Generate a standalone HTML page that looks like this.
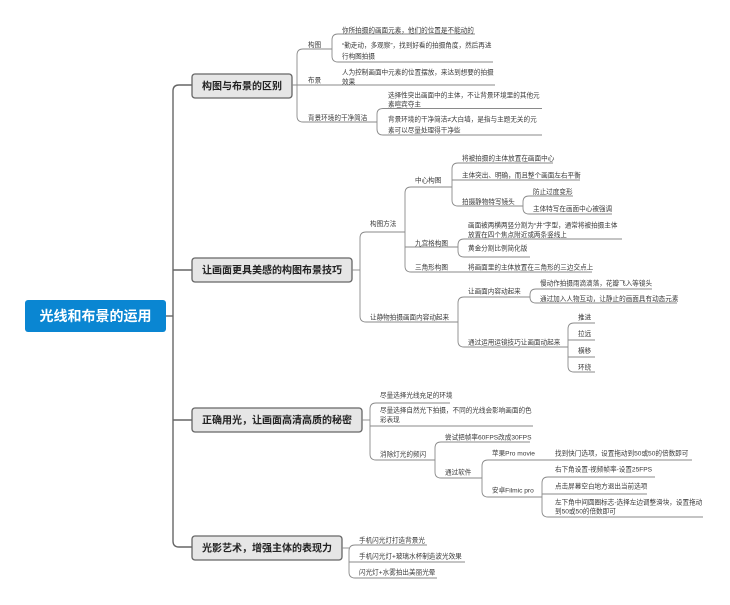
<!DOCTYPE html>
<html><head><meta charset="utf-8"><style>
html,body{margin:0;padding:0;background:#fff;width:730px;height:605px;overflow:hidden}
svg{display:block}
.t{font-family:"Liberation Sans","Noto Sans CJK SC",sans-serif;font-size:6.6px;fill:#3a3a3a}
.n{font-family:"Liberation Sans","Noto Sans CJK SC",sans-serif;font-size:10px;font-weight:bold;fill:#222}
.l{stroke:#8a8a8a;stroke-width:0.9;fill:none}
</style></head><body>
<svg width="730" height="605" viewBox="0 0 730 605" xmlns="http://www.w3.org/2000/svg">
<g stroke="#666" stroke-width="1.4" fill="none">
<path d="M166 316 H173"/>
<path d="M192 85 H179 Q173 85 173 91 V541 Q173 547 179 547 H192"/>
<path d="M173 270 H192 M173 420 H192"/>
</g>
<rect x="25" y="300" width="141" height="32" rx="3" fill="#0a86d2"/>
<text x="95.5" y="321" text-anchor="middle" font-family="Liberation Sans,Noto Sans CJK SC,sans-serif" font-size="14" font-weight="bold" fill="#fff">光线和布景的运用</text>
<g fill="#e6e6e6" stroke="#666" stroke-width="1.3">
<rect x="192" y="74" width="100" height="24" rx="3"/>
<rect x="192" y="258" width="160" height="24" rx="3"/>
<rect x="192" y="408" width="170" height="24" rx="3"/>
<rect x="192" y="536" width="150" height="24" rx="3"/>
</g>
<text class="n" x="202" y="89.5">构图与布景的区别</text>
<text class="n" x="202" y="273.5">让画面更具美感的构图布景技巧</text>
<text class="n" x="202" y="423.5">正确用光，让画面高清高质的秘密</text>
<text class="n" x="202" y="551.5">光影艺术，增强主体的表现力</text>

<g class="l">
<path d="M303 49 Q297 49 297 55 V116 Q297 122 303 122"/>
<path d="M292 85 H495"/>
<path d="M303 49 H332 M303 122 H377"/>
<path d="M338 34 Q332 34 332 40 V56 Q332 62 338 62"/>
<path d="M338 34 H475 M338 62 H493"/>
<path d="M383 108.5 Q377 108.5 377 114 V129 Q377 135 383 135"/>
<path d="M383 108.5 H542 M383 135 H542"/>
<path d="M352 270 H360"/>
<path d="M366 232 Q360 232 360 238 V316 Q360 322 366 322"/>
<path d="M366 232 H405 M366 322 H458"/>
<path d="M411 187 Q405 187 405 193 V266 Q405 272 411 272"/>
<path d="M411 187 H452 M405 247 H458 M411 272 H592"/>
<path d="M458 163 Q452 163 452 169 V200 Q452 206 458 206"/>
<path d="M458 163 H553 M452 180 H580 M458 206 H523"/>
<path d="M529 196 Q523 196 523 202 V208 Q523 214 529 214"/>
<path d="M529 196 H573 M529 214 H612"/>
<path d="M464 239 Q458 239 458 245 V251 Q458 257 464 257"/>
<path d="M464 239 H622 M464 257 H530"/>
<path d="M464 297 Q458 297 458 303 V341 Q458 347 464 347"/>
<path d="M464 297 H530 M464 347 H568"/>
<path d="M536 289 Q530 289 530 295 V297 Q530 303 536 303"/>
<path d="M536 289 H652 M536 303 H677"/>
<path d="M574 323 Q568 323 568 329 V366 Q568 372 574 372"/>
<path d="M574 323 H595 M568 340 H595 M568 357 H595 M574 372 H595"/>
<path d="M362 420 H370"/>
<path d="M376 403 Q370 403 370 409 V454 Q370 460 376 460"/>
<path d="M376 403 H450 M370 426 H533 M376 460 H435"/>
<path d="M441 442 Q435 442 435 448 V472 Q435 478 441 478"/>
<path d="M441 442 H530 M441 478 H482"/>
<path d="M488 460 Q482 460 482 466 V491 Q482 497 488 497"/>
<path d="M488 460 H692 M488 497 H542"/>
<path d="M548 477 Q542 477 542 483 V511 Q542 517 548 517"/>
<path d="M548 477 H655 M542 494 H647 M548 517 H703"/>
<path d="M342 548 H349"/>
<path d="M355 545 Q349 545 349 551 V572 Q349 578 355 578"/>
<path d="M355 545 H427 M349 562 H465 M355 578 H437"/>
</g>

<g class="t">
<text x="308" y="47">构图</text>
<text x="342" y="32.5">你所拍摄的画面元素，他们的位置是不能动的</text>
<text x="342" y="47.5">“勤走动，多观察”，找到好看的拍摄角度，然后再进</text>
<text x="342" y="58.5">行构图拍摄</text>
<text x="308" y="82.5">布景</text>
<text x="342" y="74.5">人为控制画面中元素的位置摆放，来达到想要的拍摄</text>
<text x="342" y="84">效果</text>
<text x="308" y="120">背景环境的干净简洁</text>
<text x="388" y="97.5">选择性突出画面中的主体，不让背景环境里的其他元</text>
<text x="388" y="106.5">素喧宾夺主</text>
<text x="388" y="121.5">背景环境的干净简洁≠大白墙，是指与主题无关的元</text>
<text x="388" y="132.5">素可以尽量处理得干净些</text>

<text x="370" y="226">构图方法</text>
<text x="415" y="182.5">中心构图</text>
<text x="462" y="160.5">将被拍摄的主体放置在画面中心</text>
<text x="462" y="177.5">主体突出、明确，而且整个画面左右平衡</text>
<text x="462" y="204">拍摄静物特写镜头</text>
<text x="533" y="194">防止过度变形</text>
<text x="533" y="211">主体特写在画面中心被强调</text>
<text x="415" y="245.5">九宫格构图</text>
<text x="468" y="227.5">画面被两横两竖分割为“井”字型，通常将被拍摄主体</text>
<text x="468" y="237">放置在四个焦点附近或两条竖线上</text>
<text x="468" y="250.5">黄金分割比例简化版</text>
<text x="415" y="269.5">三角形构图</text>
<text x="468" y="269.5">将画面里的主体放置在三角形的三边交点上</text>
<text x="370" y="319.5">让静物拍摄画面内容动起来</text>
<text x="468" y="293.5">让画面内容动起来</text>
<text x="540" y="285.5">慢动作拍摄雨滴滴落，花瓣飞入等镜头</text>
<text x="540" y="301">通过加入人物互动，让静止的画面具有动态元素</text>
<text x="468" y="344.5">通过运用运镜技巧让画面动起来</text>
<text x="578" y="319.5">推进</text>
<text x="578" y="336">拉远</text>
<text x="578" y="353">横移</text>
<text x="578" y="369.5">环绕</text>

<text x="380" y="397.5">尽量选择光线充足的环境</text>
<text x="380" y="412.5">尽量选择自然光下拍摄，不同的光线会影响画面的色</text>
<text x="380" y="422">彩表现</text>
<text x="380" y="456.5">消除灯光的频闪</text>
<text x="445" y="439.5">尝试把帧率60FPS改成30FPS</text>
<text x="445" y="474.5">通过软件</text>
<text x="492" y="455.5">苹果Pro movie</text>
<text x="555" y="455.5">找到快门选项，设置拖动到50或50的倍数即可</text>
<text x="492" y="492.5">安卓Filmic pro</text>
<text x="555" y="471.5">右下角设置-视频帧率-设置25FPS</text>
<text x="555" y="488.5">点击屏幕空白地方退出当前选项</text>
<text x="555" y="504.5">左下角中间圆圈标志-选择左边调整滑块，设置拖动</text>
<text x="555" y="513.5">到50或50的倍数即可</text>

<text x="359" y="542.5">手机闪光灯打造背景光</text>
<text x="359" y="558.5">手机闪光灯+玻璃水杯制造波光效果</text>
<text x="359" y="574.5">闪光灯+水雾拍出美丽光晕</text>
</g>
</svg>
</body></html>
